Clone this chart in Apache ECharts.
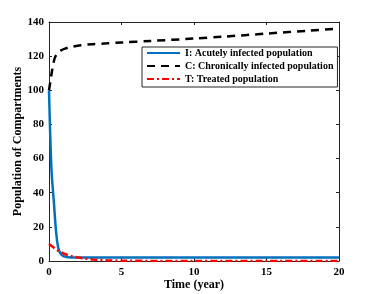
<!DOCTYPE html>
<html><head><meta charset="utf-8">
<script src="https://cdn.jsdelivr.net/npm/echarts@6/dist/echarts.min.js"></script>
<style>html,body{margin:0;padding:0;background:#fff}#c{width:374px;height:294px}</style>
</head><body><div id="c"></div>
<script>
const xTicks = [0, 5, 10, 15, 20];
const yTicks = [0, 20, 40, 60, 80, 100, 120, 140];
const seriesNames = ['I: Acutely infected population', 'C: Chronically infected population', 'T: Treated population'];
const tI = [0, 0.08, 0.18, 0.34, 0.48, 0.64, 0.87, 1.2, 1.6, 2.5, 3.5, 5, 10, 15, 20];
const valI = [100, 75, 52, 34, 18, 7.6, 3.5, 2.3, 2.1, 2, 2, 2, 2, 2, 2];
const tC = [0, 0.1, 0.2, 0.3, 0.4, 0.6, 0.8, 1.1, 1.6, 2.2, 3, 4, 5, 7, 10, 12, 15, 18, 20];
const valC = [100, 105.5, 111, 115.5, 119, 121.8, 123.2, 124.4, 125.5, 126.4, 127, 127.5, 128, 128.9, 130.3, 131.4, 133.2, 135, 136.2];
const tT = [0, 0.3, 0.6, 1, 1.5, 2, 2.5, 3, 4, 5, 10, 15, 20];
const valT = [10, 8, 6.2, 4.4, 3, 2, 1.4, 0.9, 0.4, 0.15, 0, 0, 0];

const pair = (t, v) => t.map((x, i) => [x, v[i]]);
const axisColor = '#262626';
const font = 'Liberation Serif, Times New Roman, serif';
const tick = { show: true, inside: true, length: 3, lineStyle: { color: axisColor } };
const line = { show: true, onZero: false, lineStyle: { color: axisColor, width: 1 } };
const chart = echarts.init(document.getElementById('c'));
chart.setOption({
  animation: false,
  textStyle: { fontFamily: font },
  grid: { left: 49, right: 35, top: 22, bottom: 33, containLabel: false, outerBoundsMode: 'none' },
  legend: {
    orient: 'vertical', left: 142, top: 47,
    data: seriesNames,
    itemWidth: 33, itemHeight: 10, itemGap: 3,
    itemStyle: { opacity: 0, borderWidth: 0 },
    padding: [1, 4, 3, 4],
    borderColor: '#262626', borderWidth: 1, backgroundColor: '#fff',
    textStyle: { fontFamily: font, fontWeight: 'bold', fontSize: 10, color: '#000' }
  },
  xAxis: [{
    type: 'value', min: 0, max: 20, interval: 5,
    name: 'Time (year)', nameLocation: 'middle', nameGap: 18, nameMoveOverlap: false,
    nameTextStyle: { fontFamily: font, fontWeight: 'bold', fontSize: 12, color: '#000' },
    axisLine: line, axisTick: tick,
    axisLabel: { fontFamily: font, fontWeight: 'bold', fontSize: 11, color: '#000', margin: 6 },
    splitLine: { show: false }
  }, {
    type: 'value', min: 0, max: 20, interval: 5, position: 'top',
    axisLine: line, axisTick: tick,
    axisLabel: { show: false }, splitLine: { show: false }
  }],
  yAxis: [{
    type: 'value', min: 0, max: 140, interval: 20,
    name: 'Population of Compartments', nameLocation: 'middle', nameGap: 25, nameMoveOverlap: false,
    nameTextStyle: { fontFamily: font, fontWeight: 'bold', fontSize: 12, color: '#000' },
    axisLine: line, axisTick: tick,
    axisLabel: { fontFamily: font, fontWeight: 'bold', fontSize: 11, color: '#000', margin: 5 },
    splitLine: { show: false }
  }, {
    type: 'value', min: 0, max: 140, interval: 20, position: 'right',
    axisLine: line, axisTick: tick,
    axisLabel: { show: false }, splitLine: { show: false }
  }],
  series: [{
    name: seriesNames[0], type: 'line', data: pair(tI, valI), smooth: 0.3,
    showSymbol: false, symbol: 'none',
    lineStyle: { color: '#0072BD', width: 2.5 }, itemStyle: { color: '#0072BD' }
  }, {
    name: seriesNames[1], type: 'line', data: pair(tC, valC), smooth: 0.3,
    showSymbol: false, symbol: 'none',
    lineStyle: { color: '#000', width: 2.5, type: [8, 6] }, itemStyle: { color: '#000' }
  }, {
    name: seriesNames[2], type: 'line', data: pair(tT, valT), smooth: 0.3,
    showSymbol: false, symbol: 'none',
    lineStyle: { color: '#FF0000', width: 2.5, type: [7, 3, 2, 3] }, itemStyle: { color: '#FF0000' }
  }, {
    name: 'frame', type: 'line', xAxisIndex: 1, yAxisIndex: 1, data: [], silent: true
  }]
});
</script></body></html>
